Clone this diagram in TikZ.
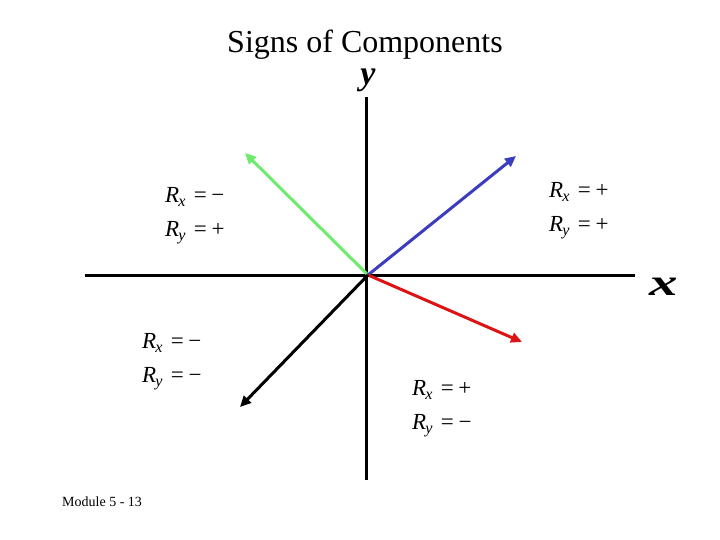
\documentclass[tikz,border=0pt]{standalone}
\usepackage{fontspec}
\setmainfont{Liberation Serif}
\usetikzlibrary{arrows.meta}
\definecolor{vgreen}{RGB}{110,235,110}
\definecolor{vblue}{RGB}{60,60,190}
\definecolor{vred}{RGB}{220,20,20}
\newcommand{\comp}[2]{\textit{R}\textsubscript{\kern-1pt\textit{#1}}\hspace{0.35em}=\hspace{0.2em}#2}
\tikzset{
  axis/.style={line width=3pt,black},
  vec/.style={line width=3pt,-{Triangle[length=11pt,width=10pt]}},
  lab/.style={font=\fontsize{23}{26}\selectfont,anchor=west,inner sep=0pt}
}
\begin{document}
\begin{tikzpicture}[x=1pt,y=-1pt]
\useasboundingbox (0,0) rectangle (720,540);
\node (title) at (365,45) {\fontsize{32}{36}\selectfont Signs of Components};
\coordinate (xl) at (85,275);
\coordinate (xr) at (635,275);
\coordinate (yt) at (366,97);
\coordinate (yb) at (366,480);
\coordinate (o) at (368,275);
\draw[axis] (xl) -- (xr);
\draw[axis] (yt) -- (yb);
\node (ylab) at (368,80) {\fontsize{34}{36}\selectfont\bfseries\itshape y};
\node[inner sep=0pt] (xlab) at (664,287) {\scalebox{1.5}[1]{\fontsize{38}{40}\selectfont\bfseries\itshape x}};
\coordinate (g) at (245,153);
\coordinate (b) at (516,156);
\coordinate (r) at (522,342);
\coordinate (k) at (240,407);
\draw[vec,vgreen] (o) -- (g);
\draw[vec,vblue] (o) -- (b);
\draw[vec,vred] (o) -- (r);
\draw[vec,black] (o) -- (k);
\node[lab] (l1a) at (165,197) {\comp{x}{−}};
\node[lab] (l1b) at (165,233) {\comp{y}{+}};
\node[lab] (l2a) at (549,192) {\comp{x}{+}};
\node[lab] (l2b) at (549,228) {\comp{y}{+}};
\node[lab] (l3a) at (142,343) {\comp{x}{−}};
\node[lab] (l3b) at (142,379) {\comp{y}{−}};
\node[lab] (l4a) at (412,390) {\comp{x}{+}};
\node[lab] (l4b) at (412,426) {\comp{y}{−}};
\node[anchor=west,inner sep=0pt] (mod) at (62,502) {\fontsize{14}{16}\selectfont Module 5 - 13};
\end{tikzpicture}
\end{document}
